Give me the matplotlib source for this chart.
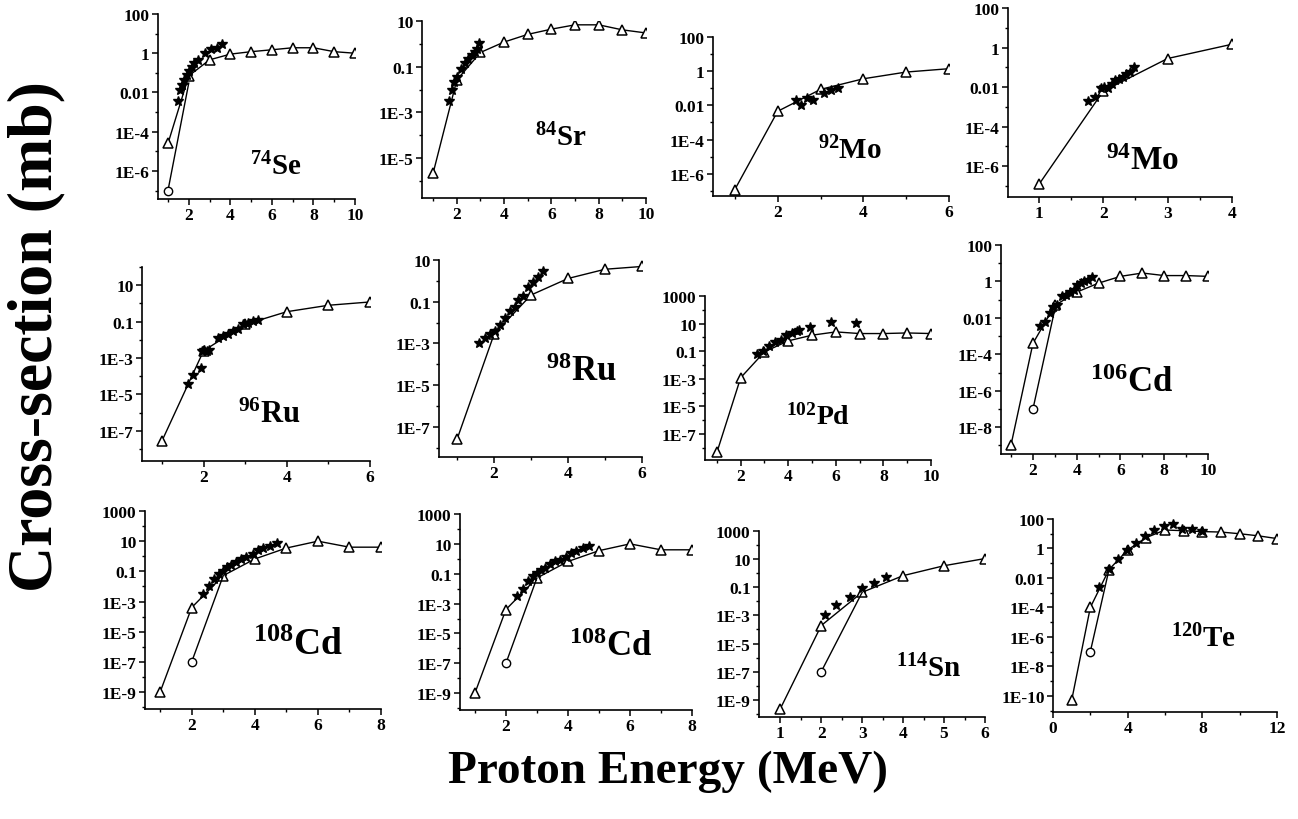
import numpy as np
import matplotlib
matplotlib.use("Agg")
import matplotlib.pyplot as plt
from matplotlib.ticker import FuncFormatter, NullFormatter

plt.rcParams['font.family'] = ['Liberation Serif', 'DejaVu Serif']
plt.rcParams['font.weight'] = 'bold'
plt.rcParams['mathtext.default'] = 'regular'

# ---------------- data ----------------
# 74Se
se74_tri_x = [1, 2, 3, 4, 5, 6, 7, 8, 9, 10]
se74_tri_y = [2.5e-5, 0.07, 0.46, 0.9, 1.2, 1.5, 1.9, 1.9, 1.2, 1.0]
se74_circ_x = [1, 2]
se74_circ_y = [1e-7, 0.03]
se74_star_x = [1.48, 1.56, 1.67, 1.79, 1.9, 2.0, 2.15, 2.27, 2.43, 2.8, 3.08, 3.35, 3.6]
se74_star_y = [0.0038, 0.013, 0.025, 0.044, 0.08, 0.12, 0.2, 0.3, 0.46, 1.0, 1.6, 1.8, 3.0]

# 84Sr
sr84_tri_x = [1, 2, 3, 4, 5, 6, 7, 8, 9, 10]
sr84_tri_y = [2.2e-6, 0.026, 0.42, 1.2, 2.6, 4.4, 6.8, 6.8, 4.1, 3.0]
sr84_star_x = [1.68, 1.79, 1.89, 2.0, 2.17, 2.35, 2.49, 2.63, 2.77, 2.87, 2.95]
sr84_star_y = [0.0033, 0.0099, 0.021, 0.034, 0.079, 0.15, 0.22, 0.32, 0.45, 0.59, 1.04]

# 92Mo
mo92_tri_x = [1, 2, 3, 4, 5, 6]
mo92_tri_y = [1.2e-7, 0.0045, 0.086, 0.36, 0.89, 1.4]
mo92_star_x = [2.42, 2.54, 2.68, 2.83, 3.08, 3.25, 3.42]
mo92_star_y = [0.0196, 0.011, 0.028, 0.022, 0.055, 0.075, 0.103]

# 94Mo
mo94_tri_x = [1, 2, 3, 4]
mo94_tri_y = [1.2e-7, 0.0063, 0.28, 1.47]
mo94_star_x = [1.77, 1.87, 1.97, 2.01, 2.08, 2.13, 2.18, 2.25, 2.31, 2.36, 2.42, 2.47]
mo94_star_y = [0.002, 0.0033, 0.0086, 0.0104, 0.0086, 0.0136, 0.0225, 0.027, 0.033, 0.044, 0.06, 0.107]

# 96Ru
ru96_tri_x = [1, 2, 3, 4, 5, 6]
ru96_tri_y = [2.8e-8, 0.0025, 0.07, 0.35, 0.79, 1.2]
ru96_star_x = [1.62, 1.74, 1.93, 1.97, 2.02, 2.08, 2.14, 2.35, 2.47, 2.59, 2.71, 2.83, 2.95, 3.07, 3.19, 3.31]
ru96_star_y = [3.9e-5, 1.15e-4, 2.9e-4, 2.3e-3, 2.6e-3, 2.4e-3, 2.8e-3, 0.013, 0.016, 0.022, 0.031, 0.041,
               0.071, 0.088, 0.11, 0.13]

# 98Ru
ru98_tri_x = [1, 2, 3, 4, 5, 6]
ru98_tri_y = [2.6e-8, 2.8e-3, 0.21, 1.3, 3.6, 4.9]
ru98_star_x = [1.59, 1.75, 1.88, 2.02, 2.15, 2.29, 2.42, 2.56, 2.65, 2.78, 2.92, 3.05, 3.19, 3.32]
ru98_star_y = [1.1e-3, 1.9e-3, 2.8e-3, 4.0e-3, 7.6e-3, 0.016, 0.034, 0.059, 0.12, 0.19, 0.5, 0.9, 1.6, 3.0]

# 102Pd
pd102_tri_x = [1, 2, 3, 4, 5, 6, 7, 8, 9, 10]
pd102_tri_y = [4.6e-9, 1.2e-3, 0.09, 0.56, 1.45, 2.5, 1.9, 1.9, 2.1, 1.9]
pd102_star_x = [2.7, 2.95, 3.19, 3.44, 3.69, 3.9, 4.14, 4.35, 4.46, 4.9, 5.78, 6.83]
pd102_star_y = [0.06, 0.1, 0.22, 0.45, 0.67, 1.4, 2.0, 2.8, 3.2, 5.8, 13.7, 11.6]

# 106Cd
cd106_tri_x = [1, 2, 3, 4, 5, 6, 7, 8, 9, 10]
cd106_tri_y = [1.1e-9, 4e-4, 0.048, 0.26, 0.81, 1.9, 2.9, 2.1, 2.1, 1.9]
cd106_circ_x = [2, 3]
cd106_circ_y = [1e-7, 0.03]
cd106_star_x = [2.33, 2.56, 2.79, 2.91, 3.09, 3.32, 3.52, 3.7, 3.88, 4.03, 4.18, 4.35, 4.53, 4.68]
cd106_star_y = [0.0035, 0.006, 0.0196, 0.038, 0.05, 0.15, 0.18, 0.27, 0.36, 0.6, 0.8, 1.05, 1.15, 1.7]

# 108Cd
cd108_tri_x = [1, 2, 3, 4, 5, 6, 7, 8]
cd108_tri_y = [1e-9, 4e-4, 0.052, 0.66, 3.5, 10, 4, 4]
cd108_circ_x = [2, 3]
cd108_circ_y = [1e-7, 0.052]
cd108_star_x = [2.35, 2.54, 2.72, 2.88, 2.99, 3.13, 3.26, 3.41, 3.57, 3.73, 3.95, 4.11, 4.27, 4.48, 4.69]
cd108_star_y = [3e-3, 0.01, 0.031, 0.067, 0.11, 0.18, 0.26, 0.43, 0.66, 0.84, 1.4, 2.6, 3.3, 5.0, 7.2]

# 114Sn
sn114_tri_x = [1, 2, 3, 4, 5, 6]
sn114_tri_y = [2.3e-10, 1.9e-4, 0.044, 0.67, 3.4, 11]
sn114_circ_x = [2, 3]
sn114_circ_y = [1e-7, 0.044]
sn114_star_x = [2.09, 2.37, 2.7, 2.99, 3.28, 3.59]
sn114_star_y = [1.1e-3, 5.7e-3, 0.022, 0.085, 0.2, 0.5]

# 120Te
te120_tri_x = [1, 2, 3, 4, 5, 6, 7, 8, 9, 10, 11, 12]
te120_tri_y = [5e-11, 1e-4, 0.037, 0.8, 5.5, 18, 16, 14, 13, 10, 7.2, 4.7]
te120_circ_x = [2, 3]
te120_circ_y = [1e-7, 0.037]
te120_star_x = [2.49, 2.99, 3.47, 3.96, 4.44, 4.94, 5.42, 5.92, 6.45, 6.93, 7.43, 8.0]
te120_star_y = [2.3e-3, 0.04, 0.19, 0.8, 2.5, 6.5, 18, 34, 49, 20, 20, 16]

labels = [r'$^{74}$Se', r'$^{84}$Sr', r'$^{92}$Mo', r'$^{94}$Mo', r'$^{96}$Ru', r'$^{98}$Ru',
          r'$^{102}$Pd', r'$^{106}$Cd', r'$^{108}$Cd', r'$^{108}$Cd', r'$^{114}$Sn', r'$^{120}$Te']

panels_data = [
    (se74_tri_x, se74_tri_y, se74_circ_x, se74_circ_y, se74_star_x, se74_star_y),
    (sr84_tri_x, sr84_tri_y, None, None, sr84_star_x, sr84_star_y),
    (mo92_tri_x, mo92_tri_y, None, None, mo92_star_x, mo92_star_y),
    (mo94_tri_x, mo94_tri_y, None, None, mo94_star_x, mo94_star_y),
    (ru96_tri_x, ru96_tri_y, None, None, ru96_star_x, ru96_star_y),
    (ru98_tri_x, ru98_tri_y, None, None, ru98_star_x, ru98_star_y),
    (pd102_tri_x, pd102_tri_y, None, None, pd102_star_x, pd102_star_y),
    (cd106_tri_x, cd106_tri_y, cd106_circ_x, cd106_circ_y, cd106_star_x, cd106_star_y),
    (cd108_tri_x, cd108_tri_y, cd108_circ_x, cd108_circ_y, cd108_star_x, cd108_star_y),
    (cd108_tri_x, cd108_tri_y, cd108_circ_x, cd108_circ_y, cd108_star_x, cd108_star_y),
    (sn114_tri_x, sn114_tri_y, sn114_circ_x, sn114_circ_y, sn114_star_x, sn114_star_y),
    (te120_tri_x, te120_tri_y, te120_circ_x, te120_circ_y, te120_star_x, te120_star_y),
]

# ---------------- layout ----------------
W, H = 1298, 820
# (left, right, top, bottom) in pixels
boxes = [(158, 355, 15, 200), (422, 646, 22, 199), (713, 949, 38, 197), (1008, 1232, 9, 198),
         (142, 370, 268, 462), (439, 642, 261, 458), (705, 931, 297, 461), (1001, 1208, 246, 455),
         (145, 381, 512, 710), (460, 692, 515, 711), (759, 985, 532, 718), (1053, 1277, 520, 713)]
xlims = [(0.52, 10), (0.53, 10), (0.49, 6), (0.52, 4), (0.52, 6), (0.51, 6),
         (0.5, 10), (0.54, 10), (0.52, 8), (0.52, 8), (0.48, 6), (0, 12)]
ylims = [(3.7e-8, 100), (1.8e-7, 10), (5e-8, 100), (2.8e-8, 100), (2.2e-9, 100), (3.6e-9, 10),
         (1.3e-9, 1000), (3.4e-10, 100), (7.5e-11, 1000), (7.5e-11, 1000), (6e-11, 1000), (8e-12, 100)]
ytop_label_exp = [2, 1, 2, 2, 1, 1, 3, 2, 3, 3, 3, 2]
xmaj = [np.arange(2, 11, 2), np.arange(2, 11, 2), np.arange(2, 7, 2), np.arange(1, 5, 1),
        np.arange(2, 7, 2), np.arange(2, 7, 2), np.arange(2, 11, 2), np.arange(2, 11, 2),
        np.arange(2, 9, 2), np.arange(2, 9, 2), np.arange(1, 7, 1), np.arange(0, 13, 4)]
xmin_ = [np.arange(1, 10, 2), np.arange(1, 10, 2), np.arange(1, 6, 2), np.arange(1.5, 4, 1),
         np.arange(1, 6, 2), np.arange(1, 6, 2), np.arange(1, 10, 2), np.arange(1, 10, 2),
         np.arange(1, 8, 2), np.arange(1, 8, 2), np.arange(1.5, 6, 1), np.arange(2, 11, 4)]
lab_pos = [(0.60, 0.135), (0.62, 0.30), (0.58, 0.24), (0.60, 0.15), (0.56, 0.20), (0.70, 0.39),
           (0.50, 0.22), (0.63, 0.30), (0.65, 0.28), (0.65, 0.28), (0.75, 0.22), (0.67, 0.34)]
lab_size = [21, 21, 21, 24, 22, 25, 20, 25, 27, 25, 21, 21]


def yfmt(v, pos):
    e = int(round(np.log10(v)))
    if e >= 0:
        return str(10 ** e)
    if e >= -2:
        return '0.' + '0' * (-e - 1) + '1'
    return '1E%d' % e


fig = plt.figure(figsize=(W / 100, H / 100), dpi=100)

for i, (l, r, t, b) in enumerate(boxes):
    ax = fig.add_axes([l / W, 1 - b / H, (r - l) / W, (b - t) / H])
    tx, ty, cx, cy, sx, sy = panels_data[i]
    ax.plot(tx, ty, '-', color='black', lw=1.0, marker='^', mfc='white', mec='black',
            ms=7, mew=1.1, zorder=3)
    if cx is not None:
        ax.plot(cx, cy, '-', color='black', lw=1.0, marker='o', mfc='white', mec='black',
                ms=6, mew=1.0, markevery=[0], zorder=3)
    ax.plot(sx, sy, linestyle='none', marker='*', color='black', ms=7.5, zorder=4)
    ax.set_yscale('log')
    lo, hi = ylims[i]
    emax = ytop_label_exp[i]
    emin = int(np.floor(np.log10(lo)))
    major = 10.0 ** np.arange(emax, emin - 1, -2)
    minor = 10.0 ** np.arange(emax + 1, emin - 1, -2)
    ax.set_yticks(major)
    ax.set_yticks(minor, minor=True)
    ax.yaxis.set_major_formatter(FuncFormatter(yfmt))
    ax.yaxis.set_minor_formatter(NullFormatter())
    ax.set_ylim(lo, hi)
    ax.set_xticks(xmaj[i])
    ax.set_xticks(xmin_[i], minor=True)
    ax.set_xlim(*xlims[i])
    for s in ('top', 'right'):
        ax.spines[s].set_visible(False)
    for s in ('left', 'bottom'):
        ax.spines[s].set_linewidth(1.2)
    ax.tick_params(which='major', direction='out', length=4, width=1.1, labelsize=12.5, pad=2)
    ax.tick_params(which='minor', direction='out', length=2.5, width=1.0)
    for lab in ax.get_xticklabels() + ax.get_yticklabels():
        lab.set_fontweight('bold')
    ax.text(lab_pos[i][0], lab_pos[i][1], labels[i], transform=ax.transAxes, ha='center',
            va='baseline', fontsize=lab_size[i], fontweight='bold')

fig.text(0.028, 0.589, 'Cross-section (mb)', rotation=90, ha='center', va='center',
         fontsize=46, fontweight='bold')
fig.text(0.515, 0.059, 'Proton Energy (MeV)', ha='center', va='center',
         fontsize=34, fontweight='bold')

fig.savefig('out.png', dpi=100)
